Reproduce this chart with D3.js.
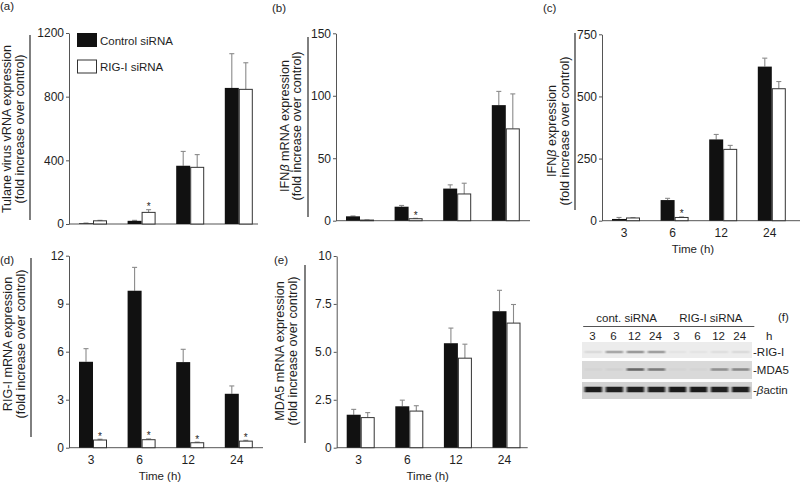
<!DOCTYPE html>
<html><head><meta charset="utf-8">
<script src="https://cdn.jsdelivr.net/npm/d3@7/dist/d3.min.js"></script>
<style>
body{margin:0;background:#fff}
svg{display:block}
text{font-family:"Liberation Sans",Arial,Helvetica,sans-serif;fill:#1e1e1e}
</style></head>
<body><svg id="chart" width="800" height="484"></svg>
<script>
// ---------------- data ----------------
const times = ["3", "6", "12", "24"];
const seriesNames = ["Control siRNA", "RIG-I siRNA"];

// (a) Tulane virus vRNA
const aCtrl = [4, 20, 366, 855];
const aCtrlErr = [2, 3, 90, 215];
const aRig = [20, 73, 356, 846];
const aRigErr = [3, 17, 80, 167];
const aStar = [0, 1, 0, 0];
const aTicks = [0, 400, 800, 1200];

// (b) IFNb mRNA
const bCtrl = [3.5, 11.2, 25.7, 92.5];
const bCtrlErr = [0.3, 1.0, 3.0, 11];
const bRig = [0.5, 1.6, 21.4, 73.5];
const bRigErr = [0.1, 0.3, 8.6, 28];
const bStar = [0, 1, 0, 0];
const bTicks = [0, 50, 100, 150];

// (c) IFNb expression
const cCtrl = [7, 83, 327, 620];
const cCtrlErr = [6, 7, 20, 34];
const cRig = [11, 13, 287, 531];
const cRigErr = [1, 2, 16, 29];
const cStar = [0, 1, 0, 0];
const cTicks = [0, 250, 500, 750];

// (d) RIG-I mRNA
const dCtrl = [5.37, 9.81, 5.35, 3.37];
const dCtrlErr = [0.82, 1.46, 0.8, 0.49];
const dRig = [0.48, 0.5, 0.31, 0.41];
const dRigErr = [0.05, 0.05, 0.04, 0.05];
const dStar = [1, 1, 1, 1];
const dTicks = [0, 3, 6, 9, 12];

// (e) MDA5 mRNA
const eCtrl = [1.72, 2.16, 5.45, 7.12];
const eCtrlErr = [0.28, 0.32, 0.79, 1.09];
const eRig = [1.57, 1.91, 4.67, 6.5];
const eRigErr = [0.26, 0.28, 0.73, 0.97];
const eStar = [0, 0, 0, 0];
const eTicks = [0, 2.5, 5, 7.5, 10];
const eTickLabels = ["0", "2.5", "5.0", "7.5", "10"];

// (f) western blot band intensities (8 lanes: cont 3,6,12,24 | RIG-I 3,6,12,24)
const blotGroups = ["cont. siRNA", "RIG-I siRNA"];
const blotLanes = ["3", "6", "12", "24", "3", "6", "12", "24"];
const rigBand = [0.07, 0.3, 0.36, 0.34, 0.03, 0.03, 0.05, 0.07];
const mdaBand = [0.02, 0.03, 0.55, 0.45, 0.02, 0.02, 0.35, 0.38];
const actinBand = [0.92, 0.9, 0.9, 0.9, 0.93, 0.93, 0.9, 0.9];

// ---------------- drawing ----------------
const svg = d3.select("#chart");
const defs = svg.append("defs");
defs.append("filter").attr("id", "blur").attr("x", "-20%").attr("y", "-100%").attr("width", "140%").attr("height", "300%")
  .append("feGaussianBlur").attr("stdDeviation", "0.9 0.7");

const panels = [
  {id: "(a)", ctrl: aCtrl, ce: aCtrlErr, rig: aRig, re: aRigErr, star: aStar, ticks: aTicks, max: 1200,
   x0: 69, yBase: 224, yTop: 33, baseLen: 189, tl: [30, 35, 220], lab: [11, 23.5], cy: 129,
   lines: [["Tulane virus vRNA expression"], ["(fold increase over control)"]], pl: [0, 10], showX: false},
  {id: "(b)", ctrl: bCtrl, ce: bCtrlErr, rig: bRig, re: bRigErr, star: bStar, ticks: bTicks, max: 150,
   x0: 336, yBase: 220.7, yTop: 33.3, baseLen: 194, tl: [308, 37, 217], lab: [288.5, 301], cy: 126,
   lines: [["IFN", "β", " mRNA expression"], ["(fold increase over control)"]], pl: [272, 12], showX: false},
  {id: "(c)", ctrl: cCtrl, ce: cCtrlErr, rig: cRig, re: cRigErr, star: cStar, ticks: cTicks, max: 750,
   x0: 602, yBase: 220.7, yTop: 34.3, baseLen: 198, tl: [575, 33, 210], lab: [556, 568.5], cy: 131,
   lines: [["IFN", "β", " expression"], ["(fold increase over control)"]], pl: [543, 12], showX: true},
  {id: "(d)", ctrl: dCtrl, ce: dCtrlErr, rig: dRig, re: dRigErr, star: dStar, ticks: dTicks, max: 12,
   x0: 69, yBase: 447.7, yTop: 255.7, baseLen: 194, tl: [31, 258, 437], lab: [12, 25], cy: 344,
   lines: [["RIG-I mRNA expression"], ["(fold increase over control)"]], pl: [0, 264], showX: true},
  {id: "(e)", ctrl: eCtrl, ce: eCtrlErr, rig: eRig, re: eRigErr, star: eStar, ticks: eTicks, max: 10, tickLabels: eTickLabels,
   x0: 336.7, yBase: 447.7, yTop: 256, baseLen: 191, tl: [305, 265, 443], lab: [283.5, 296.5], cy: 351,
   lines: [["MDA5 mRNA expression"], ["(fold increase over control)"]], pl: [274, 264], showX: true}
];

const barW = 14;
const errColor = "#8a8a8a";

panels.forEach(p => {
  const g = svg.append("g");
  const y = d3.scaleLinear().domain([0, p.max]).range([p.yBase, p.yTop]);
  const x = d3.scalePoint().domain(times).range([p.x0 + 24, p.x0 + 24 + 3 * 48.6]);

  // panel letter
  g.append("text").attr("x", p.pl[0]).attr("y", p.pl[1]).attr("font-size", 11.5).text(p.id);

  // title bracket line
  g.append("line").attr("x1", p.tl[0]).attr("x2", p.tl[0]).attr("y1", p.tl[1]).attr("y2", p.tl[2])
    .attr("stroke", "#2a2a2a").attr("stroke-width", 1.2);

  // y label lines
  p.lines.forEach((parts, i) => {
    const t = g.append("text").attr("transform", `translate(${p.lab[i]},${p.cy}) rotate(-90)`)
      .attr("text-anchor", "middle").attr("font-size", 12.6);
    parts.forEach(s => {
      const ts = t.append("tspan").text(s);
      if (s === "β") ts.attr("font-style", "italic");
    });
  });

  // y axis
  const ax = d3.axisLeft(y).tickValues(p.ticks).tickSize(3).tickSizeOuter(0).tickPadding(2);
  if (p.tickLabels) ax.tickFormat((d, i) => p.tickLabels[i]);
  else ax.tickFormat(d3.format("d"));
  const ag = g.append("g").attr("transform", `translate(${p.x0},0)`).call(ax);
  ag.select(".domain").attr("stroke", "#555");
  ag.selectAll(".tick line").attr("stroke", "#555");
  ag.selectAll(".tick text").attr("font-size", 12).attr("font-family", '"Liberation Sans",Arial,sans-serif').attr("fill", "#1e1e1e");

  // baseline
  g.append("line").attr("x1", p.x0).attr("x2", p.x0 + p.baseLen).attr("y1", p.yBase).attr("y2", p.yBase)
    .attr("stroke", "#555").attr("stroke-width", 1);

  const rows = times.map((t, i) => ({t, c: p.ctrl[i], ce: p.ce[i], r: p.rig[i], re: p.re[i], s: p.star[i]}));

  // error bars (up only)
  const drawErr = (cx, v, e) => {
    g.append("line").attr("x1", cx).attr("x2", cx).attr("y1", y(v)).attr("y2", y(v + e))
      .attr("stroke", errColor).attr("stroke-width", 1.1);
    g.append("line").attr("x1", cx - 2.5).attr("x2", cx + 2.5).attr("y1", y(v + e)).attr("y2", y(v + e))
      .attr("stroke", errColor).attr("stroke-width", 1.1);
  };
  rows.forEach(d => {
    drawErr(x(d.t) - barW / 2, d.c, d.ce);
    drawErr(x(d.t) + barW / 2, d.r, d.re);
  });

  // bars
  g.selectAll(".bc").data(rows).enter().append("rect")
    .attr("x", d => x(d.t) - barW).attr("width", barW)
    .attr("y", d => y(d.c)).attr("height", d => y(0) - y(d.c))
    .attr("fill", "#111");
  g.selectAll(".br").data(rows).enter().append("rect")
    .attr("x", d => x(d.t) + 0.5).attr("width", barW - 1)
    .attr("y", d => y(d.r)).attr("height", d => Math.max(0.5, y(0) - y(d.r)))
    .attr("fill", "#fff").attr("stroke", "#333").attr("stroke-width", 1);

  // significance stars
  rows.filter(d => d.s).forEach(d => {
    g.append("text").attr("x", x(d.t) + barW / 2).attr("y", y(d.r + d.re) + 0.5)
      .attr("text-anchor", "middle").attr("font-size", 10).text("*");
  });

  // x tick labels and title
  if (p.showX) {
    times.forEach(t => {
      g.append("text").attr("x", x(t) - 2).attr("y", p.yBase + 16).attr("text-anchor", "middle")
        .attr("font-size", 12).text(t);
    });
    g.append("text").attr("x", p.x0 + 91).attr("y", p.yBase + 32).attr("text-anchor", "middle")
      .attr("font-size", 11.5).text("Time (h)");
  }
});

// legend in panel (a)
const lg = svg.append("g");
lg.append("rect").attr("x", 77).attr("y", 33).attr("width", 20).attr("height", 14).attr("fill", "#111");
lg.append("text").attr("x", 100).attr("y", 45).attr("font-size", 11.5).text(seriesNames[0]);
lg.append("rect").attr("x", 77.5).attr("y", 60).attr("width", 19).attr("height", 13).attr("fill", "#fff")
  .attr("stroke", "#333").attr("stroke-width", 1);
lg.append("text").attr("x", 100).attr("y", 71).attr("font-size", 11.5).text(seriesNames[1]);

// ---------------- (f) western blot ----------------
const fg = svg.append("g");
fg.append("text").attr("x", 778).attr("y", 321).attr("font-size", 11.5).text("(f)");
const bx = d3.scaleBand().domain(d3.range(8)).range([582, 752]).padding(0.08);
const laneC = i => bx(i) + bx.bandwidth() / 2;

// group headers
[[0, 3], [4, 7]].forEach((r, gi) => {
  const x1 = bx(r[0]) - 0.5, x2 = bx(r[1]) + bx.bandwidth() + 4;
  fg.append("line").attr("x1", x1).attr("x2", x2).attr("y1", 326.5).attr("y2", 326.5)
    .attr("stroke", "#555").attr("stroke-width", 1.2);
  fg.append("text").attr("x", (x1 + x2) / 2).attr("y", 322).attr("text-anchor", "middle")
    .attr("font-size", 11.5).text(blotGroups[gi]);
});
blotLanes.forEach((l, i) => {
  fg.append("text").attr("x", laneC(i) - 1).attr("y", 340).attr("text-anchor", "middle")
    .attr("font-size", 11.5).text(l);
});
fg.append("text").attr("x", 766).attr("y", 340).attr("font-size", 11.5).text("h");

const strips = [
  {name: "RIG-I", y0: 342, y1: 358, bg: "#ececec", band: rigBand, by: 352, bh: 2.6},
  {name: "MDA5", y0: 361, y1: 379, bg: "#d9d9d9", band: mdaBand, by: 369.5, bh: 2.6},
  {name: "actin", y0: 382, y1: 399, bg: "#d2d2d2", band: actinBand, by: 389.5, bh: 5.5}
];
strips.forEach(s => {
  fg.append("rect").attr("x", 582).attr("y", s.y0).attr("width", 170).attr("height", s.y1 - s.y0).attr("fill", s.bg);
  s.band.forEach((v, i) => {
    fg.append("rect").attr("x", bx(i) + 1).attr("width", bx.bandwidth() - 2)
      .attr("y", s.by - s.bh / 2).attr("height", s.bh)
      .attr("fill", "#111").attr("opacity", v).attr("filter", "url(#blur)");
  });
  const t = fg.append("text").attr("x", 753).attr("y", s.by + 4).attr("font-size", 11.5);
  if (s.name === "actin") {
    t.append("tspan").text("-");
    t.append("tspan").attr("font-style", "italic").text("β");
    t.append("tspan").text("actin");
  } else t.text("-" + s.name);
});
</script>
</body></html>
